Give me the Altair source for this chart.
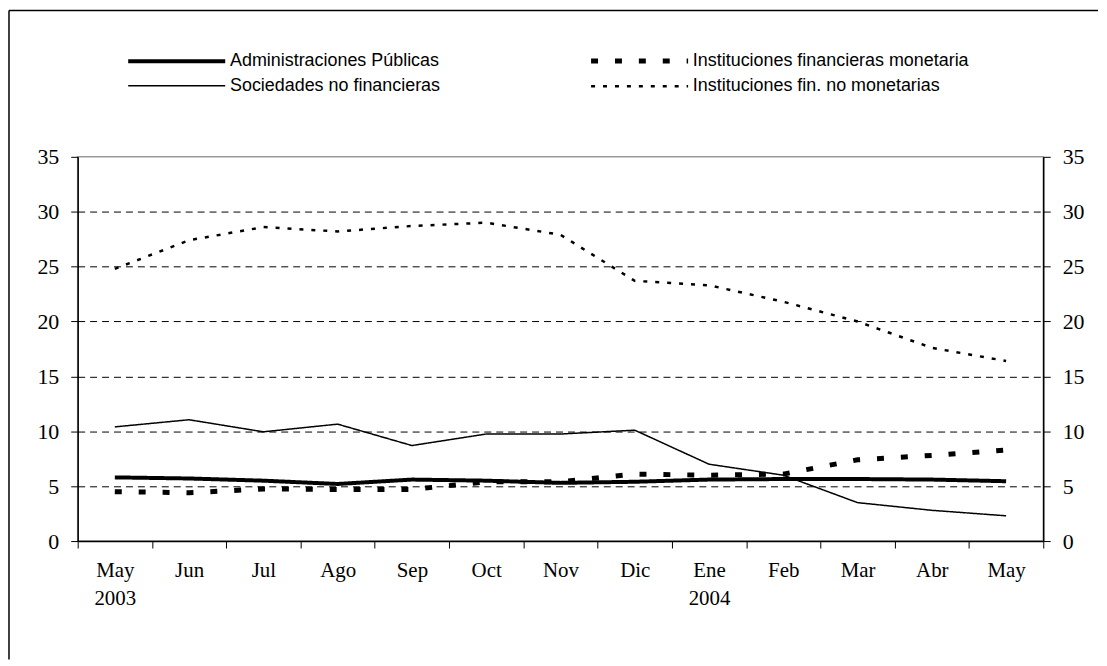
import altair as alt
import pandas as pd

months = ["May 2003", "Jun", "Jul", "Ago", "Sep", "Oct", "Nov", "Dic",
          "Ene 2004", "Feb", "Mar", "Abr", "May"]
series_names = ["Administraciones Públicas", "Sociedades no financieras",
                "Instituciones financieras monetaria", "Instituciones fin. no monetarias"]

admin_publicas = [5.8, 5.7, 5.5, 5.2, 5.6, 5.5, 5.3, 5.4, 5.6, 5.65, 5.65, 5.6, 5.45]
sociedades_no_fin = [10.4, 11.05, 9.95, 10.65, 8.7, 9.75, 9.75, 10.1, 7.0, 6.0, 3.5, 2.8, 2.3]
inst_fin_monetaria = [4.5, 4.4, 4.75, 4.7, 4.7, 5.4, 5.4, 6.1, 6.0, 6.1, 7.4, 7.8, 8.3]
inst_fin_no_monetarias = [24.8, 27.4, 28.6, 28.2, 28.7, 29.0, 27.9, 23.7, 23.3, 21.8, 20.0, 17.6, 16.4]

rows = []
for name, vals in zip(series_names, [admin_publicas, sociedades_no_fin,
                                     inst_fin_monetaria, inst_fin_no_monetarias]):
    for m, v in zip(months, vals):
        rows.append({"mes": m, "serie": name, "valor": v})
df = pd.DataFrame(rows)

W, H = 970, 386
serif = "Liberation Serif"
sans = "Liberation Sans"

xscale = alt.Scale(domain=months, paddingInner=0, paddingOuter=0)
yscale = alt.Scale(domain=[0, 35], nice=False)
yvals = [0, 5, 10, 15, 20, 25, 30, 35]

x_enc = alt.X("mes:N", scale=xscale, sort=months, bandPosition=0.5,
              axis=alt.Axis(title=None, tickBand="extent", tickSize=7, tickColor="black",
                            domainColor="black", domainWidth=1.5, labelAngle=0,
                            labelFont=serif, labelFontSize=21, labelColor="black",
                            labelPadding=12, labelLineHeight=28, labelBaseline="top",
                            labelExpr="split(datum.label, ' ')", grid=False))

legend = alt.Legend(title=None, orient="none", legendX=48, legendY=-109, columns=2,
                    symbolType="M-1,0H9", symbolSize=380, symbolStrokeColor="black",
                    labelFont=sans, labelFontSize=18, labelColor="black", labelOffset=80,
                    columnPadding=140, rowPadding=4, labelLimit=400)

lines = alt.Chart(df).mark_line(color="black", strokeCap="butt").encode(
    x=x_enc,
    y=alt.Y("valor:Q", scale=yscale,
            axis=alt.Axis(title=None, orient="left", values=yvals, tickSize=7,
                          tickColor="black", domainColor="black", domainWidth=1.5,
                          labelFont=serif, labelFontSize=22, labelColor="black",
                          labelPadding=12, grid=True, gridColor="black", gridWidth=1,
                          gridDash=[7, 5],
                          gridOpacity={"condition": {"test": "datum.value == 0 || datum.value == 35",
                                                     "value": 0}, "value": 1})),
    strokeDash=alt.StrokeDash("serie:N", sort=series_names,
                              scale=alt.Scale(domain=series_names,
                                              range=[[1, 0], [1, 0], [7, 17], [4, 8]]),
                              legend=legend),
    strokeWidth=alt.StrokeWidth("serie:N", sort=series_names,
                                scale=alt.Scale(type="ordinal", domain=series_names,
                                                range=[4, 1.5, 5, 2.5]),
                                legend=legend),
    detail="serie:N",
)

right_axis = alt.Chart(df).mark_line(opacity=0).encode(
    x=x_enc,
    y=alt.Y("valor:Q", scale=yscale,
            axis=alt.Axis(title=None, orient="right", values=yvals, tickSize=7,
                          tickColor="black", domainColor="black", domainWidth=1.5,
                          labelFont=serif, labelFontSize=22, labelColor="black",
                          labelPadding=12, grid=False)),
    detail="serie:N",
)

frame_left = alt.Chart(alt.Data(values=[{}])).mark_rule(color="black", strokeWidth=1.5).encode(
    x=alt.value(-69), y=alt.value(-147), y2=alt.value(505))
frame_top = alt.Chart(alt.Data(values=[{}])).mark_rule(color="black", strokeWidth=1.5).encode(
    x=alt.value(-69), x2=alt.value(1025), y=alt.value(-147))

chart = alt.layer(lines, right_axis, frame_left, frame_top).resolve_axis(
    y="independent"
).properties(
    width=W, height=H, padding=0, background="white"
).configure_view(stroke="#999999", strokeWidth=1.5)

chart.save("out.html", embed_options={"renderer": "svg", "actions": False})
